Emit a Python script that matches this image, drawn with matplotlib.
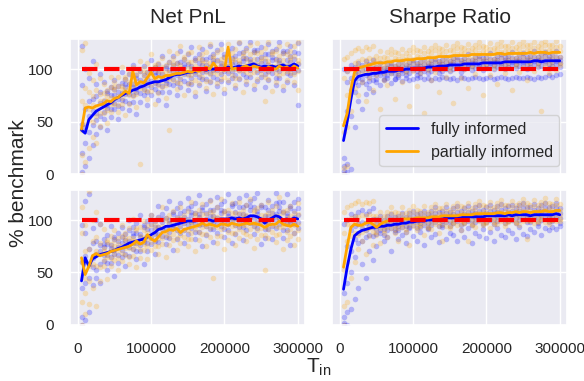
import numpy as np
import matplotlib
matplotlib.use('Agg')
import matplotlib.pyplot as plt
import seaborn as sns

sns.set_theme(style='darkgrid')
plt.rcParams['font.family'] = ['Liberation Sans', 'DejaVu Sans']
plt.rcParams['mathtext.default'] = 'regular'

# T_in grid (mean curves and individual runs share it)
t_in = np.arange(5000, 300001, 5000)
benchmark = 100

col_titles = ['Net PnL', 'Sharpe Ratio']
labels = ['fully informed', 'partially informed']

# mean curves (% of benchmark)
pnl_full_top = [42, 39, 52, 56, 60, 62, 64, 66, 68, 71,
                73, 75, 77, 78, 80, 81, 83, 84, 86, 87,
                88, 88, 89, 90, 92, 94, 95, 95, 96, 97,
                97, 98, 99, 100, 99, 100, 100, 101, 100, 101,
                102, 101, 102, 103, 102, 103, 104, 105, 103, 102,
                103, 102, 103, 102, 103, 104, 102, 103, 105, 103]
pnl_part_top = [43, 63, 64, 63, 65, 66, 67, 70, 69, 72,
                73, 76, 79, 77, 98, 85, 88, 87, 92, 97,
                91, 93, 92, 94, 94, 95, 96, 96, 97, 98,
                97, 99, 98, 100, 102, 100, 106, 101, 100, 99,
                121, 100, 101, 100, 102, 103, 101, 103, 102, 101,
                99, 102, 101, 100, 103, 101, 102, 100, 103, 101]
sr_full_top = [32, 50, 71, 89, 93, 94, 95, 95, 96, 96,
               97, 97, 98, 98, 98, 99, 99, 100, 100, 101,
               101, 101, 101, 102, 102, 102, 103, 103, 103, 104,
               104, 104, 104, 105, 105, 105, 105, 105, 106, 106,
               106, 106, 106, 106, 107, 107, 107, 107, 107, 107,
               107, 107, 108, 108, 107, 108, 108, 108, 108, 108]
sr_part_top = [46, 58, 81, 97, 101, 102, 103, 104, 105, 106,
               106, 106, 107, 107, 108, 108, 108, 109, 109, 109,
               110, 110, 110, 111, 111, 111, 112, 112, 112, 112,
               113, 113, 113, 113, 113, 114, 114, 114, 114, 114,
               114, 114, 115, 115, 114, 115, 115, 115, 115, 115,
               115, 116, 115, 116, 116, 116, 115, 116, 116, 116]
pnl_full_bot = [42, 64, 56, 63, 65, 67, 68, 69, 70, 71,
                73, 74, 76, 78, 79, 80, 81, 82, 84, 86,
                88, 91, 92, 94, 94, 95, 96, 97, 98, 99,
                99, 99, 100, 99, 100, 100, 99, 100, 101, 101,
                101, 102, 101, 102, 101, 102, 104, 104, 103, 101,
                97, 100, 102, 104, 103, 100, 101, 100, 102, 101]
pnl_part_bot = [64, 48, 56, 66, 68, 66, 67, 68, 70, 71,
                72, 73, 74, 75, 77, 80, 77, 79, 86, 82,
                80, 84, 88, 89, 91, 90, 92, 88, 91, 92,
                93, 94, 95, 97, 95, 96, 95, 94, 96, 96,
                95, 97, 96, 95, 96, 97, 96, 97, 96, 95,
                93, 95, 96, 96, 99, 96, 95, 94, 96, 94]
sr_full_bot = [34, 55, 72, 85, 88, 90, 91, 92, 93, 93,
               94, 94, 95, 95, 96, 96, 97, 97, 98, 98,
               99, 99, 99, 100, 100, 101, 101, 101, 102, 102,
               102, 102, 102, 103, 103, 103, 103, 103, 103, 104,
               104, 104, 104, 104, 104, 105, 104, 105, 105, 105,
               105, 104, 105, 105, 105, 105, 105, 105, 106, 105]
sr_part_bot = [55, 75, 93, 96, 95, 95, 97, 98, 96, 93,
               96, 98, 99, 100, 100, 100, 101, 101, 101, 101,
               102, 102, 102, 102, 103, 103, 103, 104, 104, 104,
               104, 104, 105, 105, 105, 105, 106, 106, 106, 106,
               106, 106, 107, 107, 106, 107, 107, 108, 107, 108,
               108, 107, 108, 108, 108, 109, 108, 108, 109, 109]

# individual runs, one row per T_in value
pnl_full_top_runs = [
    [2, 20, 48, 85, 122], [8, 30, 45, 62, 100], [15, 40, 55, 70, 92], [28, 47, 60, 72, 108],
    [38, 52, 58, 74, 86], [45, 55, 68, 78, 95], [53, 59, 67, 70, 88], [42, 63, 66, 77, 79],
    [54, 62, 69, 75, 83], [62, 68, 75, 81, 90], [53, 65, 72, 78, 84], [63, 71, 77, 87, 97],
    [70, 76, 83, 86, 91], [61, 68, 76, 86, 95], [69, 75, 83, 86, 104], [57, 78, 81, 92, 94],
    [69, 77, 84, 90, 98], [75, 81, 88, 94, 103], [66, 78, 85, 91, 97], [75, 83, 89, 99, 109],
    [81, 87, 94, 97, 102], [71, 78, 86, 96, 105], [78, 84, 92, 95, 113], [66, 87, 90, 101, 103],
    [78, 86, 93, 99, 107], [85, 91, 98, 104, 113], [75, 87, 94, 100, 106], [83, 91, 97, 107, 117],
    [89, 95, 102, 105, 110], [80, 87, 95, 105, 114], [86, 92, 100, 103, 121], [74, 95, 98, 109, 111],
    [85, 93, 100, 106, 114], [91, 97, 104, 110, 119], [79, 91, 98, 104, 110], [88, 96, 102, 112, 122],
    [93, 99, 106, 109, 114], [84, 91, 99, 109, 118], [89, 95, 103, 106, 124], [77, 98, 101, 112, 114],
    [88, 96, 103, 109, 117], [92, 98, 105, 111, 120], [82, 94, 101, 107, 113], [91, 99, 105, 115, 125],
    [95, 101, 108, 111, 116], [86, 93, 101, 111, 120], [93, 99, 107, 110, 126], [81, 102, 105, 116, 118],
    [89, 97, 104, 110, 118], [93, 99, 106, 112, 121], [83, 95, 102, 108, 114], [90, 98, 104, 114, 124],
    [96, 102, 109, 112, 117], [85, 92, 100, 110, 119], [92, 98, 106, 109, 126], [80, 101, 104, 115, 117],
    [88, 96, 103, 109, 117], [94, 100, 107, 113, 122], [85, 97, 104, 110, 116], [66, 99, 105, 115, 125]]
pnl_part_top_runs = [
    [0, 18, 42, 70, 118], [12, 48, 66, 82, 125], [25, 52, 62, 78, 96], [35, 50, 66, 74, 90],
    [30, 55, 64, 80, 105], [46, 58, 70, 76, 92], [58, 64, 71, 77, 86], [49, 61, 68, 74, 80],
    [59, 67, 73, 83, 93], [67, 73, 80, 83, 88], [59, 66, 74, 84, 93], [67, 73, 81, 84, 102],
    [56, 77, 80, 91, 93], [67, 75, 82, 88, 96], [74, 80, 87, 93, 102], [64, 76, 83, 89, 95],
    [10, 82, 88, 98, 108], [80, 86, 93, 96, 101], [72, 79, 87, 97, 106], [79, 85, 93, 96, 114],
    [67, 88, 91, 102, 104], [77, 85, 92, 98, 106], [83, 89, 96, 102, 111], [73, 85, 92, 98, 104],
    [42, 91, 97, 107, 117], [90, 96, 103, 106, 111], [81, 88, 96, 106, 115], [87, 93, 101, 104, 122],
    [75, 96, 99, 110, 112], [86, 94, 101, 107, 115], [88, 94, 101, 107, 116], [78, 90, 97, 103, 109],
    [87, 95, 101, 111, 121], [93, 99, 106, 109, 114], [82, 89, 97, 107, 116], [89, 95, 103, 106, 124],
    [76, 97, 100, 111, 113], [87, 95, 102, 108, 116], [91, 97, 104, 110, 119], [81, 93, 100, 106, 112],
    [90, 98, 104, 114, 124], [94, 100, 107, 110, 115], [85, 92, 100, 110, 119], [92, 98, 106, 109, 126],
    [78, 99, 102, 113, 115], [89, 97, 104, 110, 118], [95, 101, 108, 114, 123], [85, 97, 104, 110, 116],
    [91, 99, 105, 115, 125], [95, 101, 108, 111, 116], [70, 93, 101, 111, 120], [91, 97, 105, 108, 126],
    [79, 100, 103, 114, 116], [88, 96, 103, 109, 117], [94, 100, 107, 113, 122], [84, 96, 103, 109, 115],
    [90, 98, 104, 114, 124], [96, 102, 109, 112, 117], [88, 95, 103, 113, 122], [80, 98, 106, 109, 126]]
sr_full_top_runs = [
    [0, 3, 8, 15, 100], [2, 10, 60, 88, 98], [5, 55, 80, 92, 104], [45, 78, 88, 96, 102],
    [70, 85, 92, 97, 106], [62, 88, 91, 99, 104], [76, 86, 94, 100, 108], [82, 89, 93, 98, 105],
    [78, 90, 95, 101, 109], [88, 91, 95, 98, 102], [85, 94, 97, 101, 106], [90, 91, 95, 98, 101],
    [92, 94, 99, 101, 105], [87, 96, 98, 103, 106], [91, 91, 95, 100, 103], [93, 94, 98, 101, 105],
    [89, 96, 99, 103, 108], [92, 94, 98, 101, 104], [90, 96, 101, 103, 107], [91, 99, 101, 106, 109],
    [92, 94, 98, 103, 106], [93, 96, 100, 103, 107], [91, 98, 101, 105, 110], [92, 96, 100, 103, 106],
    [90, 98, 103, 105, 109], [92, 100, 102, 107, 110], [91, 96, 100, 105, 108], [93, 98, 102, 105, 109],
    [92, 100, 103, 107, 112], [91, 98, 102, 105, 108], [92, 100, 105, 107, 111], [90, 102, 104, 109, 112],
    [93, 97, 101, 106, 109], [92, 100, 104, 107, 111], [91, 102, 105, 109, 114], [92, 99, 103, 106, 109],
    [93, 101, 106, 108, 112], [92, 103, 105, 110, 113], [91, 99, 103, 108, 111], [92, 101, 105, 108, 112],
    [93, 103, 106, 110, 115], [91, 100, 104, 107, 110], [92, 102, 107, 109, 113], [93, 104, 106, 111, 114],
    [92, 100, 104, 109, 112], [91, 102, 106, 109, 113], [92, 104, 107, 111, 116], [93, 101, 105, 108, 111],
    [92, 103, 108, 110, 114], [92, 105, 107, 112, 115], [93, 100, 104, 109, 112], [92, 102, 106, 109, 113],
    [91, 105, 108, 112, 117], [93, 102, 106, 109, 112], [92, 103, 108, 110, 114], [93, 106, 108, 113, 116],
    [94, 101, 105, 110, 113], [93, 103, 107, 110, 114], [94, 105, 108, 112, 117], [95, 102, 106, 109, 112]]
sr_part_top_runs = [
    [0, 6, 40, 92, 110], [8, 45, 75, 98, 112], [60, 78, 88, 100, 115], [82, 94, 100, 106, 118],
    [75, 96, 103, 108, 120], [88, 98, 102, 110, 117], [70, 97, 105, 109, 121], [92, 99, 104, 111, 119],
    [80, 100, 106, 110, 122], [94, 98, 103, 108, 113], [62, 101, 106, 111, 117], [90, 96, 102, 107, 112],
    [85, 101, 106, 111, 116], [96, 104, 108, 114, 119], [72, 99, 103, 111, 116], [95, 100, 105, 110, 115],
    [88, 103, 108, 113, 119], [97, 99, 105, 110, 115], [65, 103, 108, 113, 118], [98, 106, 110, 116, 121],
    [84, 101, 105, 113, 118], [96, 102, 107, 112, 117], [58, 105, 110, 115, 121], [99, 101, 107, 112, 117],
    [90, 105, 110, 115, 120], [97, 108, 112, 118, 123], [78, 103, 107, 115, 120], [100, 104, 109, 114, 119],
    [93, 107, 112, 117, 123], [99, 102, 108, 113, 118], [68, 107, 112, 117, 122], [101, 110, 114, 120, 125],
    [92, 104, 108, 116, 121], [100, 105, 110, 115, 120], [82, 108, 113, 118, 124], [102, 104, 110, 115, 120],
    [95, 108, 113, 118, 123], [101, 111, 115, 121, 126], [75, 105, 109, 117, 122], [102, 106, 111, 116, 121],
    [94, 109, 114, 119, 125], [101, 104, 110, 115, 120], [86, 109, 114, 119, 124], [103, 112, 116, 122, 127],
    [96, 105, 109, 117, 122], [102, 107, 112, 117, 122], [80, 110, 115, 120, 126], [103, 105, 111, 116, 121],
    [97, 109, 114, 119, 124], [102, 112, 116, 122, 127], [90, 106, 110, 118, 123], [104, 108, 113, 118, 123],
    [98, 110, 115, 120, 126], [103, 106, 112, 117, 122], [60, 110, 115, 120, 125], [104, 113, 117, 123, 127],
    [96, 106, 110, 118, 123], [103, 108, 113, 118, 123], [99, 111, 116, 121, 127], [104, 106, 112, 117, 122]]
pnl_full_bot_runs = [
    [0, 8, 35, 60, 95], [5, 40, 66, 88, 118], [12, 45, 58, 72, 125], [38, 55, 64, 78, 92],
    [45, 52, 68, 80, 100], [40, 58, 70, 76, 96], [61, 67, 74, 77, 82], [52, 59, 67, 77, 86],
    [59, 65, 73, 76, 94], [47, 68, 71, 82, 84], [59, 67, 74, 80, 88], [65, 71, 78, 84, 93],
    [56, 68, 75, 81, 87], [66, 74, 80, 90, 100], [72, 78, 85, 88, 93], [63, 70, 78, 88, 97],
    [70, 76, 84, 87, 105], [58, 79, 82, 93, 95], [70, 78, 85, 91, 99], [77, 83, 90, 96, 105],
    [68, 80, 87, 93, 99], [79, 87, 93, 103, 113], [85, 91, 98, 101, 106], [77, 84, 92, 102, 111],
    [83, 89, 97, 100, 118], [71, 92, 95, 106, 108], [82, 90, 97, 103, 111], [88, 94, 101, 107, 116],
    [78, 90, 97, 103, 109], [87, 95, 101, 111, 121], [92, 98, 105, 108, 113], [82, 89, 97, 107, 116],
    [89, 95, 103, 106, 124], [75, 96, 99, 110, 112], [86, 94, 101, 107, 115], [91, 97, 104, 110, 119],
    [79, 91, 98, 104, 110], [88, 96, 102, 112, 122], [94, 100, 107, 110, 115], [84, 91, 99, 109, 118],
    [90, 96, 104, 107, 125], [78, 99, 102, 113, 115], [87, 95, 102, 108, 116], [93, 99, 106, 112, 121],
    [81, 93, 100, 106, 112], [90, 98, 104, 114, 124], [97, 103, 110, 113, 118], [87, 94, 102, 112, 121],
    [92, 98, 106, 109, 126], [77, 98, 101, 112, 114], [83, 91, 98, 104, 112], [91, 97, 104, 110, 119],
    [82, 94, 101, 107, 113], [92, 100, 106, 116, 126], [96, 102, 109, 112, 117], [83, 90, 98, 108, 117],
    [90, 96, 104, 107, 125], [76, 97, 100, 111, 113], [88, 96, 103, 109, 117], [92, 98, 105, 111, 120]]
pnl_part_bot_runs = [
    [0, 22, 60, 88, 112], [10, 30, 45, 70, 95], [20, 42, 56, 72, 128], [35, 58, 66, 80, 100],
    [18, 56, 70, 84, 108], [42, 55, 68, 78, 96], [56, 62, 70, 73, 91], [44, 65, 68, 79, 81],
    [56, 64, 71, 77, 85], [62, 68, 75, 81, 90], [52, 64, 71, 77, 83], [61, 69, 75, 85, 95],
    [67, 73, 80, 83, 88], [58, 65, 73, 83, 92], [66, 72, 80, 83, 101], [55, 76, 79, 90, 92],
    [64, 72, 79, 85, 93], [71, 77, 84, 90, 99], [63, 75, 82, 88, 94], [71, 79, 85, 95, 105],
    [75, 81, 88, 91, 96], [68, 75, 83, 93, 102], [77, 83, 91, 94, 112], [65, 86, 89, 100, 102],
    [76, 84, 91, 97, 105], [81, 87, 94, 100, 109], [71, 83, 90, 96, 102], [78, 86, 92, 102, 112],
    [84, 90, 97, 100, 105], [75, 82, 90, 100, 109], [82, 88, 96, 99, 117], [70, 91, 94, 105, 107],
    [81, 89, 96, 102, 110], [87, 93, 100, 106, 115], [75, 87, 94, 100, 106], [84, 92, 98, 108, 118],
    [45, 94, 101, 104, 109], [78, 85, 93, 103, 112], [85, 91, 99, 102, 120], [72, 93, 96, 107, 109],
    [81, 89, 96, 102, 110], [88, 94, 101, 107, 116], [76, 88, 95, 101, 107], [83, 91, 97, 107, 117],
    [89, 95, 102, 105, 110], [80, 87, 95, 105, 114], [85, 91, 99, 102, 120], [73, 94, 97, 108, 110],
    [82, 90, 97, 103, 111], [86, 92, 99, 105, 114], [52, 86, 93, 99, 105], [83, 91, 97, 107, 117],
    [89, 95, 102, 105, 110], [79, 86, 94, 104, 113], [87, 93, 101, 104, 122], [72, 93, 96, 107, 109],
    [81, 89, 96, 102, 110], [85, 91, 98, 104, 113], [76, 88, 95, 101, 107], [82, 90, 96, 106, 116]]
sr_full_bot_runs = [
    [0, 2, 8, 30, 96], [0, 12, 40, 75, 100], [15, 50, 70, 90, 106], [25, 65, 82, 94, 104],
    [35, 78, 88, 96, 108], [58, 80, 92, 98, 110], [45, 84, 90, 97, 106], [70, 86, 94, 99, 109],
    [62, 85, 93, 101, 111], [75, 87, 91, 96, 101], [88, 90, 95, 99, 104], [80, 86, 91, 96, 100],
    [84, 90, 95, 99, 104], [70, 92, 97, 101, 106], [90, 89, 95, 97, 103], [82, 90, 94, 99, 104],
    [86, 93, 98, 102, 107], [78, 89, 94, 99, 103], [92, 93, 98, 102, 107], [85, 95, 100, 104, 109],
    [80, 92, 98, 100, 106], [89, 93, 97, 102, 107], [76, 95, 100, 104, 109], [91, 92, 97, 102, 106],
    [84, 95, 100, 104, 109], [87, 98, 103, 107, 112], [79, 94, 100, 102, 108], [93, 95, 99, 104, 109],
    [82, 98, 103, 107, 112], [88, 94, 99, 104, 108], [86, 97, 102, 106, 111], [80, 99, 104, 108, 113],
    [90, 95, 101, 103, 109], [84, 97, 101, 106, 111], [92, 99, 104, 108, 113], [78, 95, 100, 105, 109],
    [88, 98, 103, 107, 112], [85, 100, 105, 109, 114], [91, 96, 102, 104, 110], [83, 98, 102, 107, 112],
    [89, 100, 105, 109, 114], [80, 96, 101, 106, 110], [92, 99, 104, 108, 113], [86, 101, 106, 110, 115],
    [84, 97, 103, 105, 111], [90, 99, 103, 108, 113], [88, 100, 105, 109, 114], [82, 97, 102, 107, 111],
    [93, 100, 105, 109, 114], [87, 102, 107, 111, 116], [85, 98, 104, 106, 112], [91, 98, 102, 107, 112],
    [89, 101, 106, 110, 115], [94, 97, 102, 107, 111], [86, 100, 105, 109, 114], [92, 102, 107, 111, 116],
    [90, 98, 104, 106, 112], [93, 99, 103, 108, 113], [91, 102, 107, 111, 116], [94, 97, 102, 107, 111]]
sr_part_bot_runs = [
    [0, 18, 52, 88, 108], [22, 60, 80, 96, 112], [45, 85, 95, 102, 114], [60, 88, 97, 104, 116],
    [72, 86, 96, 103, 118], [80, 89, 95, 105, 115], [68, 90, 98, 104, 117], [85, 92, 99, 106, 116],
    [76, 89, 97, 104, 118], [86, 89, 94, 99, 104], [78, 92, 97, 102, 108], [90, 88, 94, 99, 104],
    [84, 93, 98, 103, 108], [92, 97, 101, 107, 112], [88, 91, 95, 103, 108], [80, 92, 97, 102, 107],
    [93, 96, 101, 106, 112], [89, 91, 97, 102, 107], [76, 95, 100, 105, 110], [94, 98, 102, 108, 113],
    [90, 93, 97, 105, 110], [95, 94, 99, 104, 109], [86, 97, 102, 107, 113], [93, 92, 98, 103, 108],
    [91, 97, 102, 107, 112], [96, 100, 104, 110, 115], [88, 94, 98, 106, 111], [80, 96, 101, 106, 111],
    [94, 99, 104, 109, 115], [92, 94, 100, 105, 110], [97, 98, 103, 108, 113], [95, 101, 105, 111, 116],
    [90, 96, 100, 108, 113], [98, 97, 102, 107, 112], [80, 100, 105, 110, 116], [96, 95, 101, 106, 111],
    [93, 100, 105, 110, 115], [99, 103, 107, 113, 118], [95, 97, 101, 109, 114], [97, 98, 103, 108, 113],
    [92, 101, 106, 111, 117], [98, 96, 102, 107, 112], [96, 101, 106, 111, 116], [99, 104, 108, 114, 119],
    [94, 97, 101, 109, 114], [98, 99, 104, 109, 114], [100, 102, 107, 112, 118], [97, 98, 104, 109, 114],
    [95, 101, 106, 111, 116], [99, 105, 109, 115, 120], [82, 99, 103, 111, 116], [100, 99, 104, 109, 114],
    [97, 103, 108, 113, 119], [99, 98, 104, 109, 114], [101, 102, 107, 112, 117], [98, 106, 110, 116, 121],
    [96, 99, 103, 111, 116], [100, 100, 105, 110, 115], [99, 104, 109, 114, 120], [101, 99, 105, 110, 115]]

panels = [
    [(pnl_full_top, pnl_full_top_runs), (pnl_part_top, pnl_part_top_runs)],
    [(sr_full_top, sr_full_top_runs), (sr_part_top, sr_part_top_runs)],
    [(pnl_full_bot, pnl_full_bot_runs), (pnl_part_bot, pnl_part_bot_runs)],
    [(sr_full_bot, sr_full_bot_runs), (sr_part_bot, sr_part_bot_runs)],
]
colors = ['blue', 'orange']

fig, axes = plt.subplots(2, 2, figsize=(5.84, 3.81), dpi=100, sharex=True, sharey=True)
fig.subplots_adjust(left=0.12, right=0.971, top=0.897, bottom=0.147, wspace=0.115, hspace=0.118)

for ax, series in zip(axes.flat, panels):
    for (mean, runs), c in zip(series, colors):
        runs = np.array(runs)
        xs = np.repeat(t_in, runs.shape[1])
        ax.scatter(xs, runs.ravel(), s=16, color=c, alpha=0.24, linewidths=0)
    for (mean, runs), c, lab in zip(series, colors, labels):
        ax.plot(t_in, mean, color=c, lw=2, label=lab)
    ax.hlines(benchmark, t_in[0], t_in[-1], colors='red', linestyles='--', lw=3)
    ax.tick_params(labelsize=11, pad=6)

for ax, title in zip(axes[0], col_titles):
    ax.set_title(title, fontsize=15, pad=12)

axes[0, 0].set_xlim(-10600, 310000)
axes[0, 0].set_ylim(0, 128.5)
axes[0, 0].set_yticks([0, 50, 100])
axes[0, 0].set_xticks([0, 100000, 200000, 300000])

leg = axes[0, 1].legend(loc='lower right', fontsize=11.5, frameon=True)
leg.get_frame().set_edgecolor('0.8')

fig.text(0.032, 0.52, '% benchmark', rotation=90, fontsize=15, ha='center', va='center')
fig.text(0.545, 0.035, 'T$_{in}$', fontsize=15, ha='center', va='center')

fig.savefig('out.png', dpi=100)
